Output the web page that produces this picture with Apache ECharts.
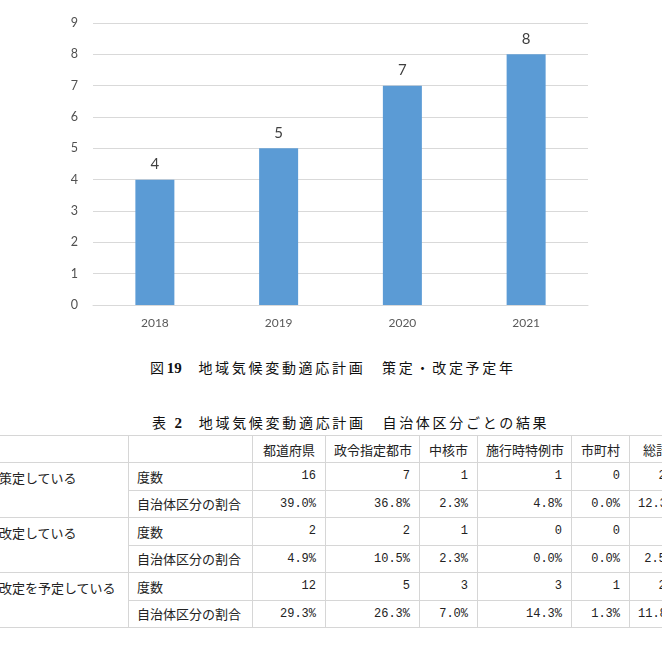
<!DOCTYPE html>
<html>
<head>
<meta charset="utf-8">
<script src="https://cdn.jsdelivr.net/npm/echarts@6/dist/echarts.min.js"></script>
<style>
  html, body { margin: 0; padding: 0; width: 662px; height: 659px; overflow: hidden; background: #fff; }
  #chart { position: absolute; left: 0; top: 0; width: 662px; height: 340px; }
  .cap { position: absolute; font-family: "Noto Sans CJK JP", sans-serif; font-size: 14px; line-height: 20px; color: #111; white-space: nowrap; letter-spacing: 2.7px; }
  .cap b { font-family: "Liberation Serif", serif; font-weight: bold; font-size: 15px; letter-spacing: 0; }
  table { position: absolute; left: -10px; top: 435px; border-collapse: collapse; table-layout: fixed;
          font-family: "Noto Sans CJK JP", sans-serif; font-size: 13px; color: #222; }
  td, th { border: 1px solid #d6d6d6; padding: 0 8px; white-space: nowrap; overflow: hidden; font-weight: normal; }
  th { text-align: center; height: 26px; }
  td { height: 26.5px; }
  td.num { text-align: right; font-family: "Liberation Mono", monospace; font-size: 12px; padding-right: 9px; }
  td.grp { vertical-align: top; padding-top: 5px; }
</style>
</head>
<body>
<div id="chart"></div>
<div class="cap" id="cap1" style="left:150px; top:357px;"></div>
<div class="cap" id="cap2" style="left:152px; top:412px;"></div>
<table id="tbl"></table>
<script>
// ---- chart data ----
const years = ['2018', '2019', '2020', '2021'];
const counts = [4, 5, 7, 8];

// ---- captions ----
const figLabel = '図';
const figNum = '19';
const figTitle = '　地域気候変動適応計画　策定・改定予定年';
const tblLabel = '表 ';
const tblNum = '2';
const tblTitle = '　地域気候変動適応計画　自治体区分ごとの結果';

// ---- table data ----
const colHeaders = ['都道府県', '政令指定都市', '中核市', '施行時特例市', '市町村', '総計'];
const rowGroups = ['策定している', '改定している', '改定を予定している'];
const measures = ['度数', '自治体区分の割合'];
const freqSakutei = [16, 7, 1, 1, 0, 25];
const pctSakutei = ['39.0%', '36.8%', '2.3%', '4.8%', '0.0%', '12.3%'];
const freqKaitei = [2, 2, 1, 0, 0, 5];
const pctKaitei = ['4.9%', '10.5%', '2.3%', '0.0%', '0.0%', '2.5%'];
const freqYotei = [12, 5, 3, 3, 1, 24];
const pctYotei = ['29.3%', '26.3%', '7.0%', '14.3%', '1.3%', '11.8%'];

const colWidths = [138, 124, 73, 94, 58, 94, 58, 53];

// ---- chart ----
const chart = echarts.init(document.getElementById('chart'));
chart.setOption({
  animation: false,
  grid: { left: 93, right: 74, top: 23, bottom: 35 },
  xAxis: {
    type: 'category',
    data: years,
    axisLine: { lineStyle: { color: '#d9d9d9', width: 1 } },
    axisTick: { show: false },
    axisLabel: { color: '#595959', fontSize: 12, fontFamily: 'Lato', margin: 12 }
  },
  yAxis: {
    type: 'value',
    min: 0, max: 9, interval: 1,
    axisLine: { show: false },
    axisTick: { show: false },
    splitLine: { lineStyle: { color: '#d9d9d9', width: 1 } },
    axisLabel: { color: '#505050', fontSize: 12.5, fontFamily: 'Lato', margin: 15 }
  },
  series: [{
    type: 'bar',
    data: counts,
    barWidth: 39,
    itemStyle: { color: '#5b9bd5' },
    label: { show: true, position: 'top', distance: 8, color: '#404040', fontSize: 15, fontFamily: 'Lato' }
  }]
});

// ---- captions ----
function setCap(id, label, num, title) {
  const el = document.getElementById(id);
  el.appendChild(document.createTextNode(label));
  const b = document.createElement('b');
  b.textContent = num;
  el.appendChild(b);
  el.appendChild(document.createTextNode(title));
}
setCap('cap1', figLabel, figNum, figTitle);
setCap('cap2', tblLabel, tblNum, tblTitle);

// ---- table ----
const tbl = document.getElementById('tbl');
const cg = document.createElement('colgroup');
colWidths.forEach(w => { const c = document.createElement('col'); c.style.width = w + 'px'; cg.appendChild(c); });
tbl.appendChild(cg);
tbl.style.width = colWidths.reduce((a, b) => a + b, 0) + 'px';

const hr = document.createElement('tr');
['', ''].concat(colHeaders).forEach(h => { const th = document.createElement('th'); th.textContent = h; hr.appendChild(th); });
tbl.appendChild(hr);

const groups = [
  [freqSakutei, pctSakutei],
  [freqKaitei, pctKaitei],
  [freqYotei, pctYotei]
];
groups.forEach((g, gi) => {
  g.forEach((vals, mi) => {
    const tr = document.createElement('tr');
    if (mi === 0) {
      const td = document.createElement('td');
      td.rowSpan = 2;
      td.className = 'grp';
      td.textContent = rowGroups[gi];
      tr.appendChild(td);
    }
    const m = document.createElement('td');
    m.textContent = measures[mi];
    tr.appendChild(m);
    vals.forEach(v => {
      const td = document.createElement('td');
      td.className = 'num';
      td.textContent = String(v);
      tr.appendChild(td);
    });
    tbl.appendChild(tr);
  });
});
</script>
</body>
</html>
